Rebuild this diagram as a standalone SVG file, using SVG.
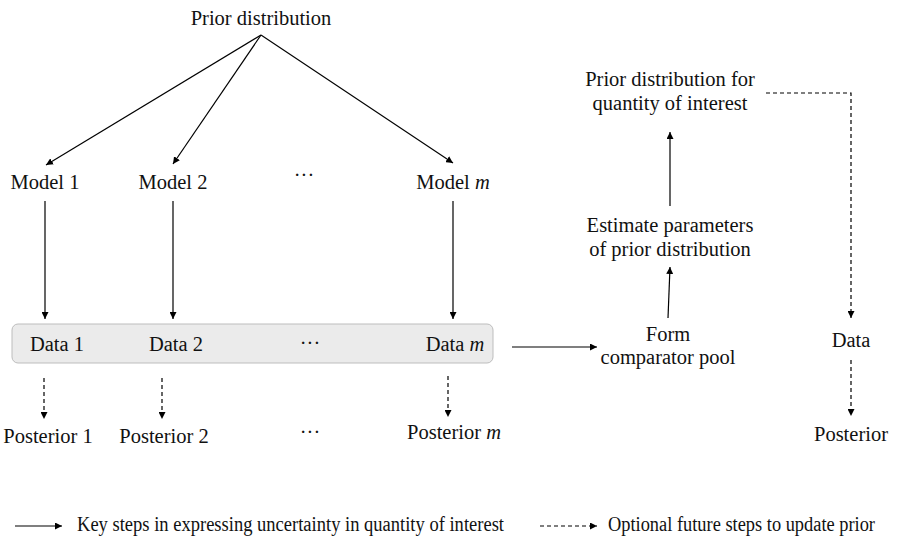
<svg xmlns="http://www.w3.org/2000/svg" width="897" height="537" viewBox="0 0 897 537">
<defs>
<marker id="ah" viewBox="0 0 10 10" refX="10" refY="5" markerWidth="7" markerHeight="7" markerUnits="userSpaceOnUse" orient="auto">
<path d="M0,0 L10,5 L0,10 z" fill="#000"/>
</marker>
<style>
text{font-size:20.5px;fill:#111;text-anchor:middle}
.s{stroke:#000;stroke-width:1.2;fill:none}
.d{stroke:#000;stroke-width:1.2;fill:none;stroke-dasharray:4,3}
.lg{font-size:20px;text-anchor:start}
</style>
</defs>
<g id="connectors">
<line class="s" x1="261" y1="35" x2="46" y2="165" marker-end="url(#ah)"/>
<line class="s" x1="261" y1="35" x2="173" y2="164" marker-end="url(#ah)"/>
<line class="s" x1="261" y1="35" x2="453" y2="163" marker-end="url(#ah)"/>
<line class="s" x1="45" y1="201" x2="45" y2="319" marker-end="url(#ah)"/>
<line class="s" x1="173" y1="201" x2="173" y2="319" marker-end="url(#ah)"/>
<line class="s" x1="453" y1="201" x2="453" y2="319" marker-end="url(#ah)"/>
<line class="d" x1="44" y1="378" x2="44" y2="419" marker-end="url(#ah)"/>
<line class="d" x1="162" y1="378" x2="162" y2="419" marker-end="url(#ah)"/>
<line class="d" x1="448" y1="376" x2="448" y2="417" marker-end="url(#ah)"/>
<line class="s" x1="512" y1="347" x2="597" y2="347" marker-end="url(#ah)"/>
<line class="s" x1="668" y1="318" x2="670" y2="267" marker-end="url(#ah)"/>
<line class="s" x1="670" y1="206" x2="670" y2="132" marker-end="url(#ah)"/>
<polyline class="d" points="766,93 851,93 851,318" marker-end="url(#ah)"/>
<line class="d" x1="851" y1="360" x2="851" y2="416" marker-end="url(#ah)"/>
</g>
<g font-family="Liberation Serif, serif">
<g id="prior"><text x="261" y="25">Prior distribution</text></g>
<g id="model1"><text x="45" y="189">Model 1</text></g>
<g id="model2"><text x="173" y="189">Model 2</text></g>
<g id="dots-model"><text x="304" y="182">···</text></g>
<g id="modelm"><text x="453" y="189">Model <tspan font-style="italic">m</tspan></text></g>
<g id="databox">
<rect x="12" y="324" width="481" height="39" rx="6" fill="#ebebeb" stroke="#bdbdbd" stroke-width="1"/>
<text x="57" y="351">Data 1</text>
<text x="176" y="351">Data 2</text>
<text x="310" y="350">···</text>
<text x="455" y="351">Data <tspan font-style="italic">m</tspan></text>
</g>
<g id="post1"><text x="48" y="443">Posterior 1</text></g>
<g id="post2"><text x="164" y="443">Posterior 2</text></g>
<g id="dots-post"><text x="310" y="439">···</text></g>
<g id="postm"><text x="454" y="439">Posterior <tspan font-style="italic">m</tspan></text></g>
<g id="form"><text x="668" y="341">Form</text><text x="668" y="364">comparator pool</text></g>
<g id="estimate"><text x="670" y="232">Estimate parameters</text><text x="670" y="256">of prior distribution</text></g>
<g id="priorq"><text x="670" y="86">Prior distribution for</text><text x="670" y="110">quantity of interest</text></g>
<g id="data"><text x="851" y="347">Data</text></g>
<g id="posterior"><text x="851" y="441">Posterior</text></g>
<g id="legend">
<line class="s" x1="15" y1="526" x2="62" y2="526" marker-end="url(#ah)"/>
<text class="lg" x="77" y="531" textLength="427" lengthAdjust="spacingAndGlyphs">Key steps in expressing uncertainty in quantity of interest</text>
<line class="d" x1="540" y1="526" x2="597" y2="526" marker-end="url(#ah)"/>
<text class="lg" x="608" y="531" textLength="267" lengthAdjust="spacingAndGlyphs">Optional future steps to update prior</text>
</g>
</g>
</svg>
